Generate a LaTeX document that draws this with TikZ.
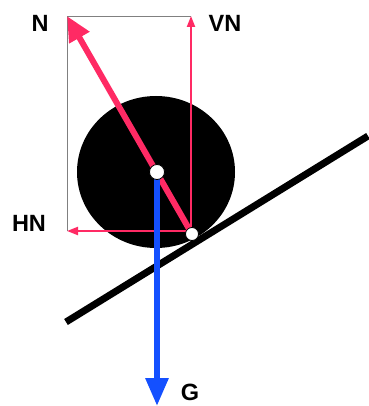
\documentclass[tikz,border=0pt]{standalone}
\usepackage{fontspec}
\setsansfont{Liberation Sans}
\usetikzlibrary{arrows.meta}
\definecolor{force}{RGB}{255,42,100}
\definecolor{weight}{RGB}{20,80,255}

\begin{document}
\begin{tikzpicture}[x=1pt,y=-1pt,
    lbl/.style={font=\sffamily\bfseries\fontsize{23.5}{24}\selectfont,inner sep=0pt},
    dot/.style={circle,fill=white,draw=black,line width=0.8pt,inner sep=0pt}]
  \useasboundingbox (0,0) rectangle (368,406);
  % ball and slope
  \fill[black] (156,172) ellipse (79 and 76);
  \draw[line width=7pt] (66,322) -- (368,136);
  % named points
  \coordinate (c) at (157,172);
  \coordinate (p) at (192,234);
  \coordinate (ntop) at (67,16);
  \coordinate (vtop) at (191,16);
  \coordinate (hend) at (67,231);
  \coordinate (gend) at (157,406);
  \draw[gray,line width=0.8pt] (hend) -- (ntop) -- (vtop);
  % components of N
  \draw[force,line width=2pt,-{Triangle[length=11pt,width=8pt]}] (191,234) -- (vtop);
  \draw[force,line width=2pt,-{Triangle[length=11pt,width=8pt]}] (191,231) -- (hend);
  % N itself
  \draw[force,line width=6pt,-{Triangle[length=25pt,width=22pt]}] (p) -- (ntop);
  % weight
  \draw[weight,line width=6pt,-{Triangle[length=28pt,width=22pt]}] (c) -- (gend);
  \node[dot,minimum size=15pt] (cdot) at (c) {};
  \node[dot,minimum size=13pt] (pdot) at (p) {};
  \node[lbl] (nlab) at (40,23.5) {N};
  \node[lbl] (vlab) at (225,23.5) {VN};
  \node[lbl] (hlab) at (29,223.5) {HN};
  \node[lbl] (glab) at (190,392) {G};
\end{tikzpicture}
\end{document}
